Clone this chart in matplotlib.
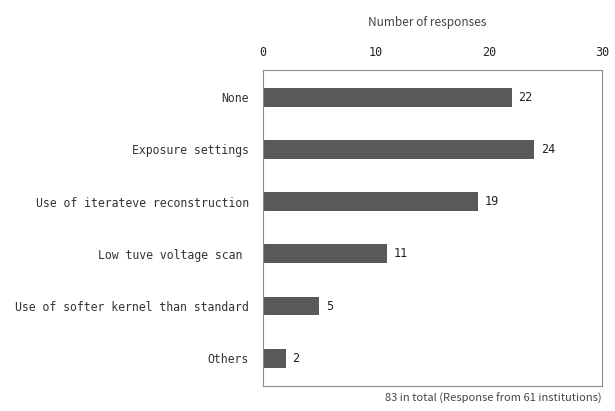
import matplotlib
matplotlib.use("Agg")
import matplotlib.pyplot as plt

categories = ["None", "Exposure settings", "Use of iterateve reconstruction",
              "Low tuve voltage scan ", "Use of softer kernel than standard", "Others"]
counts = [22, 24, 19, 11, 5, 2]
x_ticks = [0, 10, 20, 30]

mono = "DejaVu Sans Mono"
txt_color = "#333333"

fig = plt.figure(figsize=(6.15, 4.11), dpi=100)
ax = fig.add_axes([0.4276, 0.0608, 0.5512, 0.7689])

y = list(range(len(categories)))
ax.barh(y, counts, height=0.36, color="#595959")

for yi, c in zip(y, counts):
    ax.text(c + 0.6, yi, str(c), va="center", ha="left",
            fontsize=8.5, family=mono, color="#222222")

ax.set_xlim(0, 30)
ax.set_ylim(5.53, -0.52)
ax.set_yticks(y)
ax.set_yticklabels(categories, family=mono, fontsize=8.3, color=txt_color)
ax.set_xticks(x_ticks)
ax.set_xticklabels([str(t) for t in x_ticks], family=mono, fontsize=8.5, color="#222222")
ax.xaxis.tick_top()
ax.tick_params(length=0)
ax.tick_params(axis="x", pad=8)
ax.tick_params(axis="y", pad=10)

for s in ax.spines.values():
    s.set_color("#8c8c8c")
    s.set_linewidth(0.8)

fig.text(0.695, 0.945, "Number of responses", ha="center", va="center",
         fontsize=8.5, color="#444444", family="Noto Sans CJK JP")
fig.text(0.978, 0.03, "83 in total (Response from 61 institutions)",
         ha="right", va="center", fontsize=8, color="#444444", family="Noto Sans CJK JP")

fig.savefig("out.png", dpi=100)
